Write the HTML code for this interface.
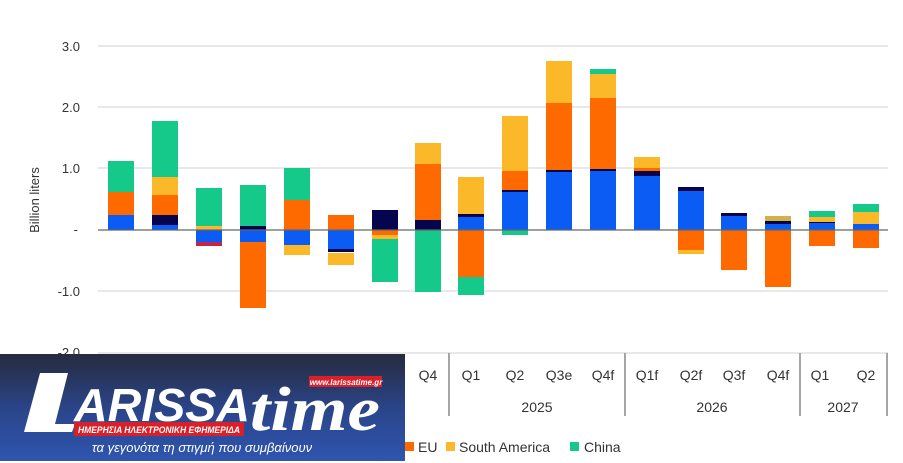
<!DOCTYPE html>
<html><head><meta charset="utf-8"><style>
html,body{margin:0;padding:0;background:#fff;width:903px;height:463px;overflow:hidden}
svg{display:block;font-family:"Liberation Sans",sans-serif}
</style></head><body>
<svg width="903" height="463" viewBox="0 0 903 463" xmlns="http://www.w3.org/2000/svg">
<g stroke="#d9d9d9" stroke-width="1.2">
<line x1="98" y1="46" x2="888" y2="46"/><line x1="98" y1="107" x2="888" y2="107"/>
<line x1="98" y1="168" x2="888" y2="168"/><line x1="98" y1="291" x2="888" y2="291"/>
<line x1="98" y1="353" x2="888" y2="353"/>
</g>
<g font-size="13" fill="#333" text-anchor="end">
<text x="80" y="51">3.0</text><text x="80" y="112">2.0</text><text x="80" y="173">1.0</text>
<text x="78" y="234">-</text><text x="80" y="296">-1.0</text><text x="80" y="357">-2.0</text>
</g>
<text transform="translate(39,200) rotate(-90)" font-size="13" fill="#333" text-anchor="middle">Billion liters</text>
<g>
<rect x="108" y="215" width="26" height="15" fill="#0a5cf5"/><rect x="108" y="192" width="26" height="23" fill="#ff6a00"/><rect x="108" y="161" width="26" height="31" fill="#14c98a"/>
<rect x="152" y="225" width="26" height="5" fill="#0a5cf5"/><rect x="152" y="215" width="26" height="10" fill="#04044f"/><rect x="152" y="195" width="26" height="20" fill="#ff6a00"/><rect x="152" y="177" width="26" height="18" fill="#fbb829"/><rect x="152" y="121" width="26" height="56" fill="#14c98a"/>
<rect x="196" y="226" width="26" height="4" fill="#fbb829"/><rect x="196" y="188" width="26" height="38" fill="#14c98a"/><rect x="196" y="230" width="26" height="12" fill="#0a5cf5"/><rect x="196" y="242" width="26" height="4" fill="#c0264a"/>
<rect x="240" y="226" width="26" height="4" fill="#04044f"/><rect x="240" y="185" width="26" height="41" fill="#14c98a"/><rect x="240" y="230" width="26" height="12" fill="#0a5cf5"/><rect x="240" y="242" width="26" height="66" fill="#ff6a00"/>
<rect x="284" y="200" width="26" height="30" fill="#ff6a00"/><rect x="284" y="168" width="26" height="32" fill="#14c98a"/><rect x="284" y="230" width="26" height="15" fill="#0a5cf5"/><rect x="284" y="245" width="26" height="10" fill="#fbb829"/>
<rect x="328" y="215" width="26" height="15" fill="#ff6a00"/><rect x="328" y="230" width="26" height="19" fill="#0a5cf5"/><rect x="328" y="249" width="26" height="3" fill="#04044f"/><rect x="328" y="253" width="26" height="12" fill="#fbb829"/>
<rect x="372" y="210" width="26" height="20" fill="#04044f"/><rect x="372" y="230" width="26" height="5" fill="#ff6a00"/><rect x="372" y="235" width="26" height="4" fill="#fbb829"/><rect x="372" y="239" width="26" height="43" fill="#14c98a"/>
<rect x="415" y="220" width="26" height="10" fill="#04044f"/><rect x="415" y="164" width="26" height="56" fill="#ff6a00"/><rect x="415" y="143" width="26" height="21" fill="#fbb829"/><rect x="415" y="230" width="26" height="62" fill="#14c98a"/>
<rect x="458" y="217" width="26" height="13" fill="#0a5cf5"/><rect x="458" y="214" width="26" height="3" fill="#04044f"/><rect x="458" y="177" width="26" height="37" fill="#fbb829"/><rect x="458" y="230" width="26" height="47" fill="#ff6a00"/><rect x="458" y="277" width="26" height="18" fill="#14c98a"/>
<rect x="502" y="192" width="26" height="38" fill="#0a5cf5"/><rect x="502" y="190" width="26" height="2" fill="#04044f"/><rect x="502" y="171" width="26" height="19" fill="#ff6a00"/><rect x="502" y="116" width="26" height="55" fill="#fbb829"/><rect x="502" y="230" width="26" height="5" fill="#14c98a"/>
<rect x="546" y="172" width="26" height="58" fill="#0a5cf5"/><rect x="546" y="170" width="26" height="2" fill="#04044f"/><rect x="546" y="103" width="26" height="67" fill="#ff6a00"/><rect x="546" y="61" width="26" height="42" fill="#fbb829"/>
<rect x="590" y="171" width="26" height="59" fill="#0a5cf5"/><rect x="590" y="169" width="26" height="2" fill="#04044f"/><rect x="590" y="98" width="26" height="71" fill="#ff6a00"/><rect x="590" y="74" width="26" height="24" fill="#fbb829"/><rect x="590" y="69" width="26" height="5" fill="#14c98a"/>
<rect x="634" y="176" width="26" height="54" fill="#0a5cf5"/><rect x="634" y="171" width="26" height="5" fill="#04044f"/><rect x="634" y="168" width="26" height="3" fill="#ff6a00"/><rect x="634" y="157" width="26" height="11" fill="#fbb829"/>
<rect x="678" y="191" width="26" height="39" fill="#0a5cf5"/><rect x="678" y="187" width="26" height="4" fill="#04044f"/><rect x="678" y="230" width="26" height="20" fill="#ff6a00"/><rect x="678" y="250" width="26" height="4" fill="#fbb829"/>
<rect x="721" y="216" width="26" height="14" fill="#0a5cf5"/><rect x="721" y="213" width="26" height="3" fill="#04044f"/><rect x="721" y="230" width="26" height="40" fill="#ff6a00"/>
<rect x="765" y="224" width="26" height="6" fill="#0a5cf5"/><rect x="765" y="221" width="26" height="3" fill="#04044f"/><rect x="765" y="216" width="26" height="5" fill="#d4b04a"/><rect x="765" y="230" width="26" height="57" fill="#ff6a00"/>
<rect x="809" y="223" width="26" height="7" fill="#0a5cf5"/><rect x="809" y="222" width="26" height="1" fill="#04044f"/><rect x="809" y="217" width="26" height="5" fill="#fbb829"/><rect x="809" y="211" width="26" height="6" fill="#14c98a"/><rect x="809" y="230" width="26" height="16" fill="#ff6a00"/>
<rect x="853" y="224" width="26" height="6" fill="#0a5cf5"/><rect x="853" y="212" width="26" height="12" fill="#fbb829"/><rect x="853" y="204" width="26" height="8" fill="#14c98a"/><rect x="853" y="230" width="26" height="18" fill="#ff6a00"/>
</g>
<line x1="98" y1="230" x2="888" y2="230" stroke="#666" stroke-width="1.2"/>
<g stroke="#888" stroke-width="1.5">
<line x1="449" y1="353" x2="449" y2="416"/><line x1="625" y1="353" x2="625" y2="416"/>
<line x1="800" y1="353" x2="800" y2="416"/><line x1="887" y1="353" x2="887" y2="416"/>
</g>
<g font-size="14" fill="#333" text-anchor="middle">
<text x="428" y="380">Q4</text><text x="471" y="380">Q1</text><text x="515" y="380">Q2</text><text x="559" y="380">Q3e</text><text x="603" y="380">Q4f</text>
<text x="647" y="380">Q1f</text><text x="691" y="380">Q2f</text><text x="734" y="380">Q3f</text><text x="778" y="380">Q4f</text>
<text x="820" y="380">Q1</text><text x="866" y="380">Q2</text>
<text x="537" y="412">2025</text><text x="712" y="412">2026</text><text x="843" y="412">2027</text>
</g>
<g font-size="14" fill="#333">
<rect x="405" y="442" width="9" height="9" fill="#ff6a00"/><text x="418" y="452">EU</text>
<rect x="446" y="442" width="9" height="9" fill="#fbb829"/><text x="459" y="452">South America</text>
<rect x="570" y="442" width="9" height="9" fill="#14c98a"/><text x="584" y="452">China</text>
</g>
<defs><linearGradient id="lg" x1="0" y1="0" x2="0" y2="1"><stop offset="0" stop-color="#262b3d"/><stop offset="0.5" stop-color="#2a4488"/><stop offset="1" stop-color="#2f55b0"/></linearGradient></defs>
<rect x="0" y="354" width="405" height="107" fill="url(#lg)"/>
<polygon points="40,373 68,373 55,424 75,424 72,432 24,432" fill="#fff"/>
<text x="74" y="421" font-size="46" font-weight="bold" font-style="italic" fill="#fff" textLength="176" lengthAdjust="spacingAndGlyphs">ARISSA</text>
<text x="250" y="430" font-size="62" font-weight="bold" font-style="italic" font-family="Liberation Serif,serif" fill="#fff" textLength="130" lengthAdjust="spacingAndGlyphs">time</text>
<rect x="309" y="376" width="73" height="11" fill="#d8202a"/>
<text x="346" y="385" font-size="8" font-weight="bold" font-style="italic" fill="#fff" text-anchor="middle">www.larissatime.gr</text>
<rect x="74" y="422" width="170" height="14" fill="#d8202a"/>
<text x="78" y="433" font-size="9.5" font-weight="bold" font-style="italic" fill="#fff" textLength="162" lengthAdjust="spacingAndGlyphs">ΗΜΕΡΗΣΙΑ ΗΛΕΚΤΡΟΝΙΚΗ ΕΦΗΜΕΡΙΔΑ</text>
<text x="202" y="452" font-size="13" font-style="italic" fill="#fff" text-anchor="middle">τα γεγονότα τη στιγμή που συμβαίνουν</text>
</svg>
</body></html>
